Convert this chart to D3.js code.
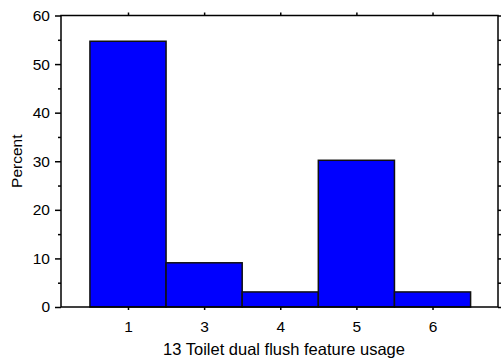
<!DOCTYPE html>
<html>
<head>
<meta charset="utf-8">
<script src="https://cdn.jsdelivr.net/npm/d3@7"></script>
<style>
  html, body { margin: 0; padding: 0; background: #fff; }
  svg { display: block; font-family: "Liberation Sans", Arial, sans-serif; }
</style>
</head>
<body>
<svg id="chart" width="501" height="359"></svg>
<script>
// Response categories and the share of respondents in each
const categories = ["1", "3", "4", "5", "6"];
const percents = [54.7, 9.1, 3.1, 30.2, 3.1];
const yMajorTicks = [0, 10, 20, 30, 40, 50, 60];
const yMinorTicks = [5, 15, 25, 35, 45, 55];
const xTitle = "13 Toilet dual flush feature usage";
const yTitle = "Percent";

const svg = d3.select("#chart");
const plot = { left: 61, right: 498, top: 15.5, bottom: 307 };

// Bars sit on unit-wide bins centred on each category index
const x = d3.scaleLinear().domain([-0.88, 4.86]).range([plot.left, plot.right]);
const y = d3.scaleLinear().domain([0, 60]).range([plot.bottom, plot.top]);

const idx = categories.map((_, i) => i);

// Bars
svg.append("g")
  .selectAll("rect")
  .data(percents)
  .join("rect")
  .attr("x", (d, i) => x(i - 0.5))
  .attr("width", (d, i) => x(i + 0.5) - x(i - 0.5))
  .attr("y", d => y(d))
  .attr("height", d => y(0) - y(d))
  .attr("fill", "#0000ff")
  .attr("stroke", "#111")
  .attr("stroke-width", 1.5);

// Frame
svg.append("rect")
  .attr("x", plot.left).attr("y", plot.top)
  .attr("width", plot.right - plot.left)
  .attr("height", plot.bottom - plot.top)
  .attr("fill", "none").attr("stroke", "#000").attr("stroke-width", 1.5);

// Left axis: labelled major ticks plus unlabelled minor ticks
svg.append("g")
  .attr("transform", `translate(${plot.left},0)`)
  .call(d3.axisLeft(y).tickValues(yMajorTicks).tickSize(6).tickPadding(5).tickFormat(d3.format("d")));
svg.append("g")
  .attr("transform", `translate(${plot.left},0)`)
  .call(d3.axisLeft(y).tickValues(yMinorTicks).tickSize(3).tickFormat(""));

// Right axis: ticks every 5 units, no labels
svg.append("g")
  .attr("transform", `translate(${plot.right},0)`)
  .call(d3.axisRight(y).tickValues(yMajorTicks.concat(yMinorTicks)).tickSize(3).tickFormat(""));

// Bottom axis with category labels
svg.append("g")
  .attr("transform", `translate(0,${plot.bottom})`)
  .call(d3.axisBottom(x).tickValues(idx).tickSize(3).tickPadding(11).tickFormat(i => categories[i]));

// Top axis: ticks only
svg.append("g")
  .attr("transform", `translate(0,${plot.top})`)
  .call(d3.axisTop(x).tickValues(idx).tickSize(3).tickFormat(""));

svg.selectAll(".domain").remove();
svg.selectAll(".tick line").attr("stroke", "#000").attr("stroke-width", 1.5);
svg.selectAll(".tick text")
  .attr("font-family", "'Liberation Sans', Arial, sans-serif")
  .attr("font-size", 15.5).attr("fill", "#000");

// Axis titles
svg.append("text")
  .attr("x", 284)
  .attr("y", 355)
  .attr("text-anchor", "middle")
  .attr("font-size", 16.5)
  .attr("fill", "#000")
  .text(xTitle);

svg.append("text")
  .attr("transform", `translate(21.5,${(plot.top + plot.bottom) / 2}) rotate(-90)`)
  .attr("text-anchor", "middle")
  .attr("font-size", 15.5)
  .attr("fill", "#000")
  .text(yTitle);
</script>
</body>
</html>
